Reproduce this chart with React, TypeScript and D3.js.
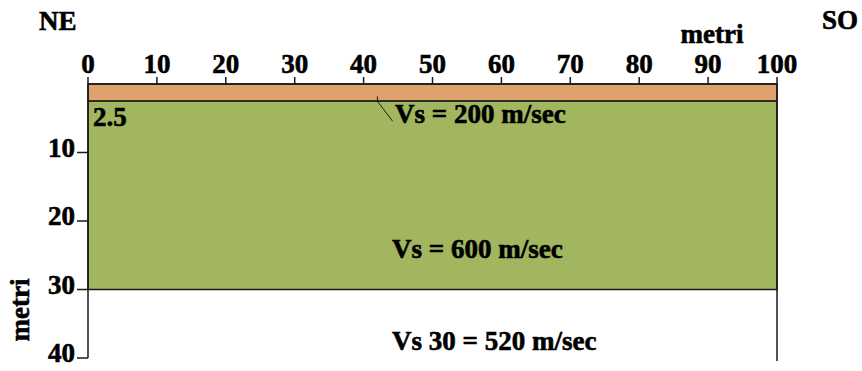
import React from "react";
import * as d3 from "d3";

const xTicks = [0, 10, 20, 30, 40, 50, 60, 70, 80, 90, 100];
const yTicks = [10, 20, 30, 40];
const layerTops = [0, 2.5];
const layerBottoms = [2.5, 30];
const layerVs = [200, 600];
const layerColors = ["#DDA36A", "#A1B65E"];
const vs30 = 520;
const interfaceLabel = "2.5";

const W = 862;
const H = 371;
const FONT = "'Liberation Serif', 'Times New Roman', serif";

export default function App() {
  const x = d3.scaleLinear().domain([0, 100]).range([88, 777]);
  const y = d3.scaleLinear().domain([0, 40]).range([84, 358]);
  const fs = 27;
  const stroke = "#1a1a1a";
  const tp = { fontSize: fs, fill: "#000", stroke: "#000", strokeWidth: 0.6 };

  return (
    <svg
      width={W}
      height={H}
      style={{ position: "absolute", left: 0, top: 0, background: "#fff" }}
      fontFamily={FONT}
      fontWeight="bold"
    >
      {layerTops.map((t, i) => (
        <rect
          key={i}
          x={x(0)}
          y={y(t)}
          width={x(100) - x(0)}
          height={y(layerBottoms[i]) - y(t)}
          fill={layerColors[i]}
          stroke={stroke}
          strokeWidth={1.5}
        />
      ))}
      <line x1={x(0)} x2={x(0)} y1={y(0)} y2={y(40)} stroke={stroke} strokeWidth={1.5} />
      <line x1={x(100)} x2={x(100)} y1={y(0)} y2={y(40) + 3} stroke={stroke} strokeWidth={1.5} />
      <line x1={x(0)} x2={x(100)} y1={y(0)} y2={y(0)} stroke={stroke} strokeWidth={1.5} />
      {xTicks.map((t) => (
        <g key={"xt" + t}>
          <line x1={x(t)} x2={x(t)} y1={y(0)} y2={y(0) - 7} stroke={stroke} strokeWidth={1.5} />
          <text x={x(t)} y={73} textAnchor="middle" {...tp}>
            {t}
          </text>
        </g>
      ))}
      {yTicks.map((t) => (
        <g key={"yt" + t}>
          <line x1={x(0) - 11} x2={x(0)} y1={y(t)} y2={y(t)} stroke={stroke} strokeWidth={1.5} />
          <text x={x(0) - 13} y={y(t) + 4} textAnchor="end" {...tp}>
            {t}
          </text>
        </g>
      ))}
      <text x={712} y={43} textAnchor="middle" {...tp}>
        metri
      </text>
      <text transform={`translate(29, ${310}) rotate(-90)`} textAnchor="middle" {...tp}>
        metri
      </text>
      <text x={39} y={30} {...tp}>
        NE
      </text>
      <text x={822} y={29} {...tp}>
        SO
      </text>
      <text x={x(0) + 5} y={y(2.5) + 25} {...tp}>
        {interfaceLabel}
      </text>
      <path
        d={`M${x(42)},${y(1.8)} V${y(2.5)} L${x(44.2)},${y(2.5) + 20}`}
        fill="none"
        stroke={stroke}
        strokeWidth={1}
      />
      <text x={395} y={123} {...tp}>
        {`Vs = ${layerVs[0]} m/sec`}
      </text>
      <text x={392} y={258} {...tp}>
        {`Vs = ${layerVs[1]} m/sec`}
      </text>
      <text x={392} y={350} {...tp}>
        {`Vs 30 = ${vs30} m/sec`}
      </text>
    </svg>
  );
}
